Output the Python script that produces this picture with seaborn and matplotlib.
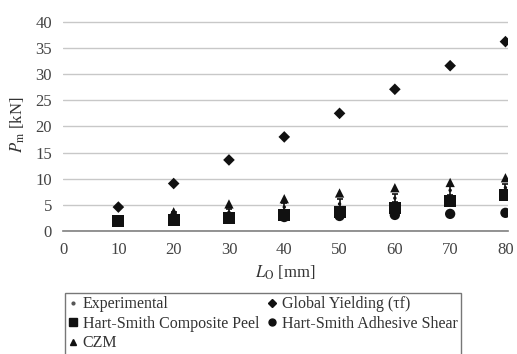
import matplotlib
matplotlib.use("Agg")
import matplotlib.pyplot as plt
import seaborn as sns
import pandas as pd
from matplotlib.lines import Line2D

overlap = [10, 20, 30, 40, 50, 60, 70, 80]
exp_mean = [2.0, 3.0, 3.6, 4.6, 5.2, 6.3, 7.8, 8.3]
exp_err = [0.4, 0.6, 0.6, 0.8, 0.9, 0.8, 0.8, 0.8]
global_yield = [4.6, 9.1, 13.6, 18.0, 22.5, 27.1, 31.6, 36.2]
hs_peel = [1.9, 2.2, 2.6, 3.0, 3.7, 4.5, 5.7, 6.9]
hs_shear = [1.8, 2.4, 2.6, 2.7, 2.9, 3.1, 3.3, 3.5]
czm = [None, 3.7, 5.2, 6.2, 7.3, 8.3, 9.3, 10.2]

sns.set_theme(style="white")
plt.rcParams["font.family"] = ["Liberation Serif", "DejaVu Serif"]
plt.rcParams["mathtext.fontset"] = "stix"

fig = plt.figure(figsize=(5.17, 3.54), dpi=100)
ax = fig.add_axes([0.122, 0.347, 0.861, 0.599])

df = pd.DataFrame({
    "L": overlap,
    "exp": exp_mean,
    "gy": global_yield,
    "peel": hs_peel,
    "shear": hs_shear,
    "czm": czm,
})

ax.errorbar(df["L"], df["exp"], yerr=exp_err, fmt="none", ecolor="#111111",
            elinewidth=1.2, capsize=2.5, capthick=1.2, zorder=2)
sns.scatterplot(data=df, x="L", y="shear", marker="o", color="#111111",
                s=55, edgecolor="none", ax=ax, zorder=3)
sns.scatterplot(data=df, x="L", y="peel", marker="s", color="#111111",
                s=75, edgecolor="none", ax=ax, zorder=4)
sns.scatterplot(data=df.dropna(subset=["czm"]), x="L", y="czm", marker="^",
                color="#111111", s=45, edgecolor="none", ax=ax, zorder=5)
sns.scatterplot(data=df, x="L", y="gy", marker="D", color="#111111",
                s=35, edgecolor="none", ax=ax, zorder=5)
sns.scatterplot(data=df, x="L", y="exp", marker="o", color="#111111",
                s=6, edgecolor="none", ax=ax, zorder=6)

ax.set_xlim(0, 80.5)
ax.set_ylim(0, 40.5)
ax.set_xticks(range(0, 81, 10))
ax.set_yticks(range(0, 41, 5))
ax.yaxis.grid(True, color="#c8c8c8", linewidth=1.0)
ax.xaxis.grid(False)
for side in ["top", "right", "left"]:
    ax.spines[side].set_visible(False)
ax.spines["bottom"].set_color("#808080")
ax.spines["bottom"].set_linewidth(1.2)
ax.tick_params(axis="x", direction="inout", length=4, color="#808080",
               labelsize=12, labelcolor="#444444", pad=6)
ax.tick_params(axis="y", length=0, labelsize=12, labelcolor="#444444", pad=8)

ax.set_xlabel(r"$L_{\mathrm{O}}$ [mm]", fontsize=12, color="#333333", labelpad=4)
ax.set_ylabel(r"$P_{\mathrm{m}}$ [kN]", fontsize=12, color="#333333", labelpad=6)

handles = [
    Line2D([], [], marker="o", color="#555555", linestyle="none", markersize=2),
    Line2D([], [], marker="s", color="#111111", linestyle="none", markersize=6),
    Line2D([], [], marker="^", color="#111111", linestyle="none", markersize=5),
    Line2D([], [], marker="D", color="#111111", linestyle="none", markersize=4.5),
    Line2D([], [], marker="o", color="#111111", linestyle="none", markersize=5),
]
labels = ["Experimental", "Hart-Smith Composite Peel", "CZM",
          "Global Yielding (\u03c4f)", "Hart-Smith Adhesive Shear"]
leg = fig.legend(handles, labels, ncol=2, loc="upper left",
                 bbox_to_anchor=(0.126, 0.172), borderaxespad=0,
                 frameon=True, fontsize=11.5,
                 handlelength=0.6, handletextpad=0.3, columnspacing=0.5,
                 labelspacing=0.22, borderpad=0.2, fancybox=False)
leg.get_frame().set_edgecolor("#555555")
leg.get_frame().set_linewidth(1.0)
for t in leg.get_texts():
    t.set_color("#333333")

fig.savefig("out.png", dpi=100)
